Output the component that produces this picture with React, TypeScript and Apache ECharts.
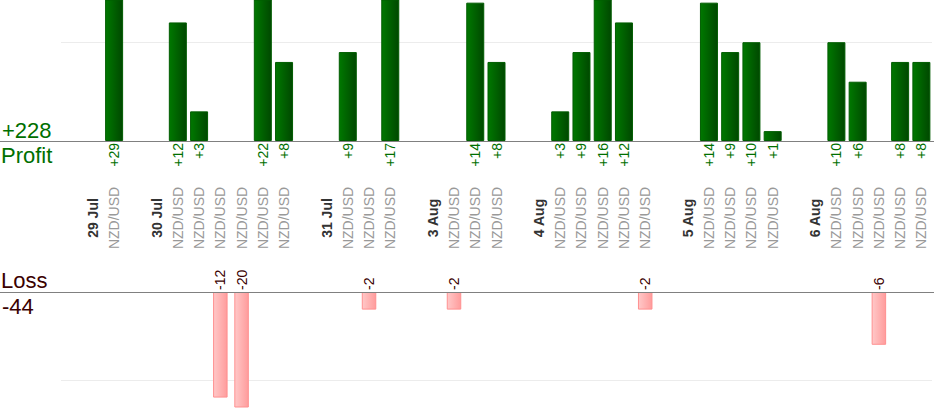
import React, { useEffect, useRef } from 'react';
import * as echarts from 'echarts';

// ---- data ----
const dates = ['29 Jul', '30 Jul', '31 Jul', '3 Aug', '4 Aug', '5 Aug', '6 Aug'];
const pair = 'NZD/USD';
const day1 = [29];
const day2 = [12, 3, -12, -20, 22, 8];
const day3 = [9, -2, 17];
const day4 = [-2, 14, 8];
const day5 = [3, 9, 16, 12, -2];
const day6 = [14, 9, 10, 1];
const day7 = [10, 6, -6, 8, 8];
const trades = [day1, day2, day3, day4, day5, day6, day7];
const profitAxisMax = 14.27;
const lossAxisMax = 13.07;
const gridStep = 10;

// ---- derived slots ----
const slotNames: string[] = [];
const slotKinds: string[] = [];
const profitValues: (number | null)[] = [];
const lossValues: (number | null)[] = [];
const profitLabels: string[] = [];
const lossLabels: string[] = [];
dates.forEach((d, i) => {
  slotNames.push(''); slotKinds.push('gap');
  profitValues.push(null); lossValues.push(null); profitLabels.push(''); lossLabels.push('');
  slotNames.push(d); slotKinds.push('date');
  profitValues.push(null); lossValues.push(null); profitLabels.push(''); lossLabels.push('');
  trades[i].forEach((v) => {
    slotNames.push(pair); slotKinds.push('trade');
    profitValues.push(v > 0 ? v : null);
    lossValues.push(v < 0 ? -v : null);
    profitLabels.push(v > 0 ? '+' + v : '');
    lossLabels.push(v < 0 ? String(v) : '');
  });
});
const totalProfit = trades.flat().filter((v) => v > 0).reduce((a, b) => a + b, 0);
const totalLoss = trades.flat().filter((v) => v < 0).reduce((a, b) => a + b, 0);
const slotKeys = slotNames.map((_, i) => String(i));

const FONT = '"Liberation Sans", Arial, sans-serif';
const GREEN = '#006f00';
const DARK_RED = '#3a0000';

export default function App() {
  const ref = useRef<HTMLDivElement>(null);
  useEffect(() => {
    document.body.style.margin = '0';
    const chart = echarts.init(ref.current!, null, { renderer: 'svg' });
    const profitFill = new echarts.graphic.LinearGradient(0, 0, 1, 0, [
      { offset: 0, color: '#007800' },
      { offset: 1, color: '#004800' },
    ]);
    const lossFill = new echarts.graphic.LinearGradient(0, 0, 1, 0, [
      { offset: 0, color: '#ffc8c8' },
      { offset: 1, color: '#ff9c9c' },
    ]);
    const left = 61;
    const right = 2;
    chart.setOption({
      animation: false,
      backgroundColor: '#ffffff',
      textStyle: { fontFamily: FONT },
      grid: [
        { left, right, top: 0, height: 141 },
        { left, right, top: 292, height: 115 },
        { left, right, top: 150, height: 68 },
      ],
      xAxis: [
        {
          type: 'category', gridIndex: 0, position: 'bottom', data: slotKeys,
          axisLine: { show: true, lineStyle: { color: '#808080', width: 1 } },
          axisTick: { show: false },
          axisLabel: {
            interval: 0, rotate: 90, margin: 2, fontSize: 14, color: GREEN, fontFamily: FONT,
            formatter: (v: string) => profitLabels[+v],
          },
        },
        {
          type: 'category', gridIndex: 1, position: 'top', data: slotKeys,
          axisLine: { show: true, lineStyle: { color: '#808080', width: 1 } },
          axisTick: { show: false },
          axisLabel: {
            interval: 0, rotate: 90, margin: 2, fontSize: 14, color: DARK_RED, fontFamily: FONT,
            formatter: (v: string) => lossLabels[+v],
          },
        },
        {
          type: 'category', gridIndex: 2, position: 'bottom', data: slotKeys,
          axisLine: { show: false },
          axisTick: { show: false },
          axisLabel: {
            interval: 0, rotate: 90, margin: 0, align: 'center', verticalAlign: 'middle',
            fontSize: 14, fontFamily: FONT,
            formatter: (v: string) => {
              const i = +v;
              if (slotKinds[i] === 'date') return '{d|' + slotNames[i] + '}';
              if (slotKinds[i] === 'trade') return '{p|' + slotNames[i] + '}';
              return '';
            },
            rich: {
              d: { fontSize: 14, fontWeight: 'bold', color: '#333333', fontFamily: FONT },
              p: { fontSize: 14, color: '#999999', fontFamily: FONT },
            },
          },
        },
      ],
      yAxis: [
        {
          type: 'value', gridIndex: 0, min: 0, max: profitAxisMax, interval: gridStep,
          axisLabel: { show: false }, axisLine: { show: false }, axisTick: { show: false },
          splitLine: { show: true, showMinLine: false, showMaxLine: false, lineStyle: { color: '#ececec' } },
        },
        {
          type: 'value', gridIndex: 1, min: 0, max: lossAxisMax, interval: gridStep, inverse: true,
          axisLabel: { show: false }, axisLine: { show: false }, axisTick: { show: false },
          splitLine: { show: true, showMinLine: false, showMaxLine: false, lineStyle: { color: '#ececec' } },
        },
        {
          type: 'value', gridIndex: 2, show: false,
          axisLabel: { show: false }, axisLine: { show: false }, axisTick: { show: false },
          splitLine: { show: false },
        },
      ],
      series: [
        {
          type: 'bar', xAxisIndex: 0, yAxisIndex: 0, data: profitValues, barWidth: 18, clip: true,
          itemStyle: { color: profitFill, borderColor: '#005c00', borderWidth: 1 },
        },
        {
          type: 'bar', xAxisIndex: 1, yAxisIndex: 1, data: lossValues, barWidth: 14.5, clip: true,
          itemStyle: { color: lossFill, borderColor: '#ff9090', borderWidth: 1 },
        },
      ],
      graphic: [
        { type: 'line', z: 50, shape: { x1: 0, y1: 141.5, x2: 934, y2: 141.5 }, style: { stroke: '#808080', lineWidth: 1 } },
        { type: 'line', z: 50, shape: { x1: 0, y1: 292.5, x2: 934, y2: 292.5 }, style: { stroke: '#808080', lineWidth: 1 } },
        { type: 'text', x: 2, y: 130, style: { text: '+' + totalProfit, fontSize: 22, fontFamily: FONT, fill: GREEN, verticalAlign: 'middle' } },
        { type: 'text', x: 1, y: 155, style: { text: 'Profit', fontSize: 22, fontFamily: FONT, fill: GREEN, verticalAlign: 'middle' } },
        { type: 'text', x: 1, y: 280, style: { text: 'Loss', fontSize: 22, fontFamily: FONT, fill: DARK_RED, verticalAlign: 'middle' } },
        { type: 'text', x: 2, y: 306, style: { text: String(totalLoss), fontSize: 22, fontFamily: FONT, fill: DARK_RED, verticalAlign: 'middle' } },
      ],
    });
    return () => chart.dispose();
  }, []);
  return <div ref={ref} style={{ width: 934, height: 420 }} />;
}
